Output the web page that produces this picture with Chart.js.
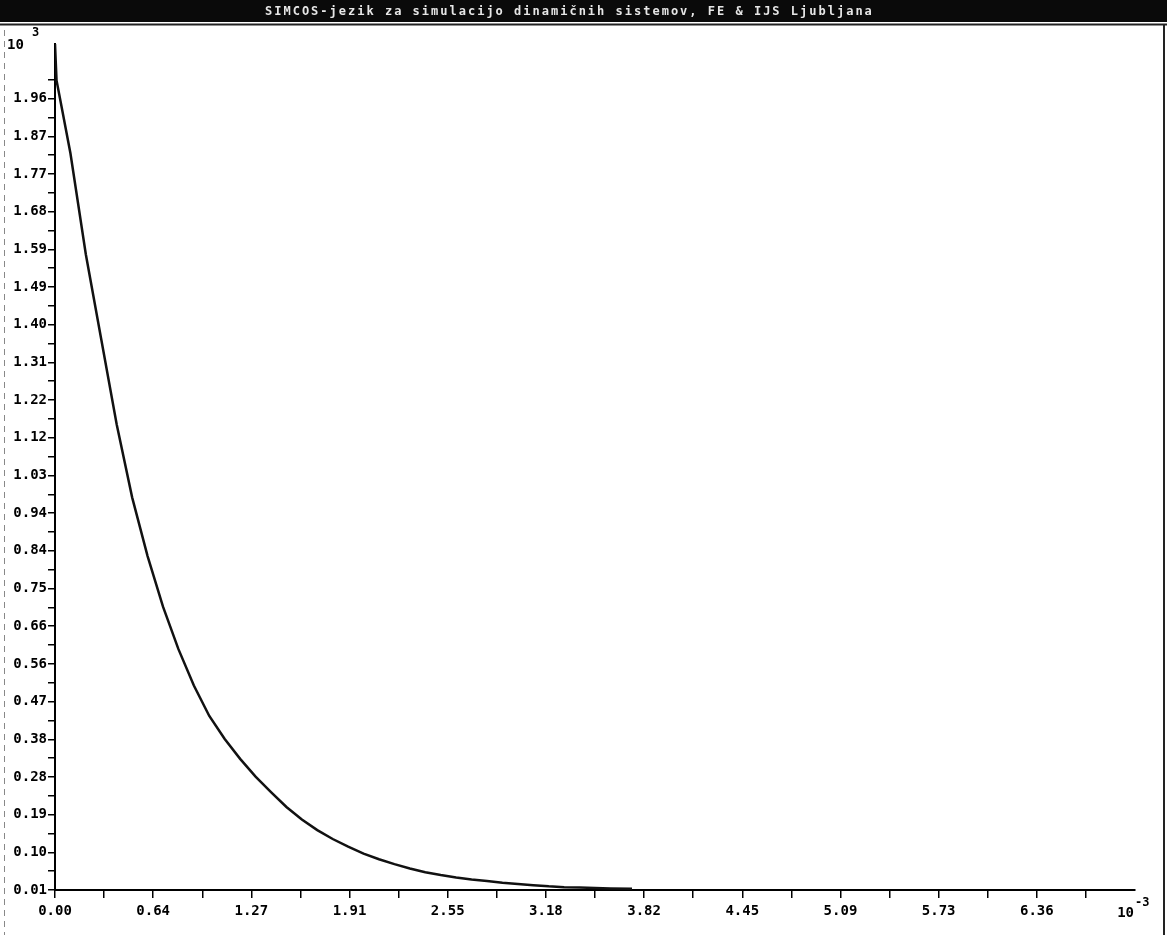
<!DOCTYPE html>
<html>
<head>
<meta charset="utf-8">
<title>SIMCOS</title>
<script src="https://cdn.jsdelivr.net/npm/chart.js@4/dist/chart.umd.min.js"></script>
<style>
  html, body { margin: 0; padding: 0; background: #fff; }
  canvas { display: block; }
</style>
</head>
<body>
<canvas id="plot" width="1167" height="935"></canvas>
<script>
// values (x in 10^-3, y in 10^3)
const timeValues = [0, 0.01, 0.05, 0.1, 0.2, 0.3, 0.4, 0.5, 0.6, 0.7, 0.8, 0.9, 1.0, 1.1, 1.2, 1.3, 1.4, 1.5, 1.6, 1.7, 1.8, 1.9,
                    2.0, 2.1, 2.2, 2.3, 2.4, 2.5, 2.6, 2.7, 2.8, 2.9, 3.0, 3.1, 3.2, 3.3, 3.4, 3.5, 3.6, 3.74];
const outputValues = [2.10, 2.01, 1.93, 1.83, 1.58, 1.37, 1.16, 0.98, 0.835, 0.71, 0.605, 0.515, 0.44, 0.383, 0.334, 0.29, 0.252, 0.215, 0.184, 0.158, 0.136, 0.117,
                      0.100, 0.086, 0.074, 0.063, 0.054, 0.047, 0.041, 0.036, 0.032, 0.028, 0.025, 0.022, 0.019, 0.017, 0.016, 0.015, 0.014, 0.013];

const xTickLabels = ["0.00", "0.64", "1.27", "1.91", "2.55", "3.18", "3.82", "4.45", "5.09", "5.73", "6.36"];
const yTickLabels = ["0.01", "0.10", "0.19", "0.28", "0.38", "0.47", "0.56", "0.66", "0.75", "0.84", "0.94",
                     "1.03", "1.12", "1.22", "1.31", "1.40", "1.49", "1.59", "1.68", "1.77", "1.87", "1.96"];

const xMin = 0, xMax = 7.0, xStep = 7.0 / 11;
const yMin = 0.01, yMax = 2.10, yStep = 0.0931;

const titleText = "SIMCOS-jezik za simulacijo dinamičnih sistemov, FE & IJS Ljubljana";
const monoFont = '"DejaVu Sans Mono", "Liberation Mono", monospace';

// window decoration, title bar and the 10^n multipliers
const framePlugin = {
    id: "frame",
    beforeDraw(chart) {
        const c = chart.ctx;
        c.save();
        c.fillStyle = "#fff";
        c.fillRect(0, 0, chart.width, chart.height);
        c.fillStyle = "#0a0a0a";                 // black title bar
        c.fillRect(0, 0, chart.width, 22);
        c.fillStyle = "#e6e6e6";
        c.font = "bold 12px " + monoFont;
        c.letterSpacing = "2px";
        c.textBaseline = "middle";
        c.fillText(titleText, 265, 12);
        c.letterSpacing = "0px";
        c.strokeStyle = "#222";                  // frame lines
        c.lineWidth = 2;
        c.beginPath();
        c.moveTo(0, 24.5); c.lineTo(chart.width, 24.5);
        c.moveTo(1164, 24); c.lineTo(1164, chart.height);
        c.stroke();
        c.strokeStyle = "#888";
        c.lineWidth = 1;
        c.setLineDash([6, 5]);
        c.beginPath();
        c.moveTo(4.5, 30); c.lineTo(4.5, chart.height);
        c.stroke();
        c.restore();
    },
    afterDraw(chart) {
        const c = chart.ctx;
        const xs = chart.scales.x;
        c.save();
        c.fillStyle = "#000";
        c.font = "bold 14px " + monoFont;
        c.textBaseline = "middle";
        c.textAlign = "left";
        c.fillText("10", 7, 45);                 // y multiplier
        c.font = "bold 12px " + monoFont;
        c.fillText("3", 32, 33);
        const px = xs.getPixelForValue(xMax);
        c.font = "bold 14px " + monoFont;
        c.textAlign = "right";
        c.fillText("10", px - 1, 913);           // x multiplier
        c.font = "bold 12px " + monoFont;
        c.textAlign = "left";
        c.fillText("-3", px, 903);
        c.restore();
    }
};

const ctx = document.getElementById("plot").getContext("2d");

const chart = new Chart(ctx, {
    type: "line",
    data: {
        datasets: [
            {
                label: "y",
                data: timeValues.map((t, i) => ({ x: t, y: outputValues[i] })),
                borderColor: "#111",
                borderWidth: 2.5,
                pointRadius: 0,
                tension: 0,                          // straight segments between read points
                fill: false,
            },
        ],
    },
    options: {
        responsive: false,
        animation: false,
        devicePixelRatio: 1,
        layout: { padding: { left: 0, top: 44, right: 32, bottom: 0 } },
        plugins: {
            legend: { display: false },
            tooltip: { enabled: false },
        },
        scales: {
            x: {
                type: "linear",
                min: xMin,
                max: xMax,
                afterBuildTicks: (scale) => {
                    const t = [];
                    for (let i = 0; i <= 21; i++) t.push({ value: xMin + i * xStep / 2 });
                    scale.ticks = t;
                },
                afterFit: (scale) => { scale.height = 45; },
                ticks: {
                    autoSkip: false,
                    maxRotation: 0,
                    padding: 5,
                    color: "#000",
                    font: { family: monoFont, size: 14, weight: "bold" },
                    callback: (v, i) => (i % 2 === 0 ? xTickLabels[i / 2] : ""),
                },
                grid: { drawOnChartArea: false, drawTicks: true, tickLength: 8, color: "#000", lineWidth: 1.5 },
                border: { display: true, color: "#000", width: 2 },
            },
            y: {
                type: "linear",
                min: yMin,
                max: yMax,
                afterBuildTicks: (scale) => {
                    const t = [];
                    for (let i = 0; i <= 43; i++) t.push({ value: yMin + i * yStep / 2 });
                    scale.ticks = t;
                },
                afterFit: (scale) => { scale.width = 55; },
                ticks: {
                    autoSkip: false,
                    padding: 1,
                    color: "#000",
                    font: { family: monoFont, size: 14, weight: "bold" },
                    callback: (v, i) => (i % 2 === 0 ? yTickLabels[i / 2] : ""),
                },
                grid: { drawOnChartArea: false, drawTicks: true, tickLength: 7, color: "#000", lineWidth: 1.5 },
                border: { display: true, color: "#000", width: 2 },
            },
        },
    },
    plugins: [framePlugin],
});
</script>
</body>
</html>
